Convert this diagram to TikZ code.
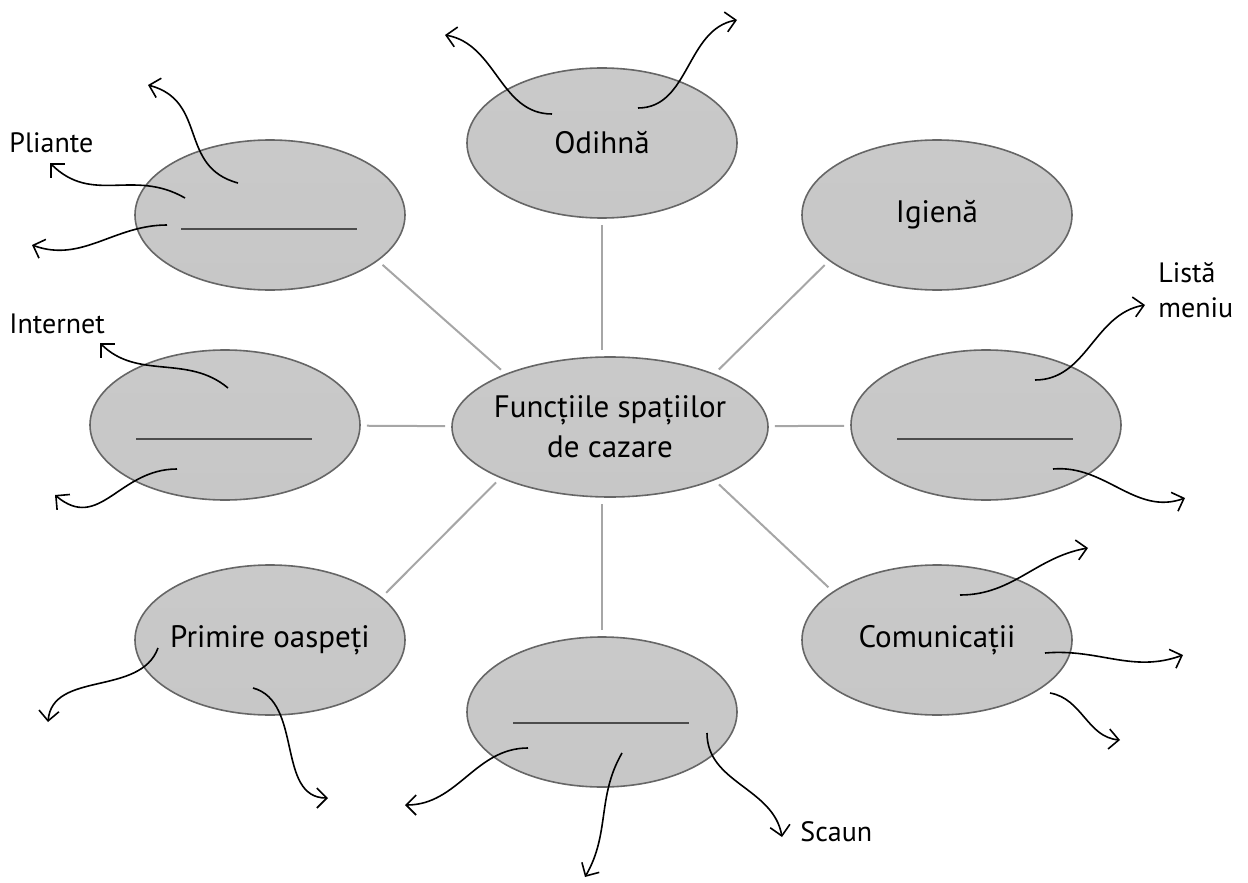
\documentclass[tikz,border=0pt]{standalone}
\usepackage{fontspec}
\setmainfont{PT Sans}
\usepackage{tikz}
\usetikzlibrary{shapes.geometric, arrows.meta, positioning}

\pgfdeclareverticalshading{bubbleshade}{100bp}{color(0bp)=(black!40); color(8bp)=(black!30); color(18bp)=(black!22); color(86bp)=(black!21); color(94bp)=(black!14); color(100bp)=(black!8)}

\tikzset{
  bubble/.style={ellipse, draw=black!60, line width=0.8pt, inner sep=0pt,
    shading=bubbleshade, minimum width=135pt, minimum height=75pt},
  btext/.style={font=\fontsize{15.5}{20}\selectfont, align=center, inner sep=0pt},
  conn/.style={draw=black!35, line width=1pt, shorten >=3pt, shorten <=3pt},
  wavy/.style={draw=black, line width=0.8pt, -{Straight Barb[length=5pt, width=10pt]}},
  blank/.style={draw=black!70, line width=0.7pt},
  lbl/.style={font=\fontsize{14}{17.5}\selectfont, inner sep=0pt, align=left}
}

\begin{document}
\begin{tikzpicture}[x=0.5pt, y=0.5pt]
  \useasboundingbox (0,0) rectangle (1248,-883);

  % bubbles
  \node (func) [bubble, minimum width=158pt, minimum height=70pt] at (610,-427) {};
  \node (odihna) [bubble] at (602,-143) {};
  \node (igiena) [bubble] at (937,-215) {};
  \node (tl) [bubble] at (270,-215) {};
  \node (le) [bubble] at (225,-425) {};
  \node (ri) [bubble] at (986,-425) {};
  \node (com) [bubble] at (937,-640) {};
  \node (prim) [bubble] at (270,-640) {};
  \node (bo) [bubble] at (602,-712) {};

  \node [btext] at (func) {Funcțiile spațiilor\\de cazare};
  \node [btext] at (odihna) {Odihnă};
  \node [btext] at (igiena) {Igienă};
  \node [btext] at (com) {Comunicații};
  \node [btext] at (prim) {Primire oaspeți};

  \foreach \n in {tl, le, ri}
    \draw [blank] ([shift={(-89,-14)}]\n.center) -- ++(176,0);
  \draw [blank] ([shift={(-89,-11)}]bo.center) -- ++(176,0);

  % spokes
  \path [conn]
    (odihna.south) edge (odihna.south |- func.north)
    (func.27) edge (igiena.203)
    (func) edge (ri)
    (func.-27) edge (com.155)
    (bo.north) edge (bo.north |- func.south)
    (func.205) edge (prim.21)
    (func) edge (le)
    (func.153) edge (tl.-23);

  % labels
  \node (pliante) [lbl, anchor=west] at (9,-143) {Pliante};
  \node (internet) [lbl, anchor=west] at (9,-324) {Internet};
  \node (lista) [lbl, anchor=west] at (1158,-290) {Listă\\meniu};
  \node (scaun) [lbl, anchor=west] at (800,-832) {Scaun};

  % arrow ends
  \coordinate (a1) at (445,-35);
  \coordinate (a2) at (737,-20);
  \coordinate (a3) at (148,-85);
  \coordinate (a4) at (50,-163);
  \coordinate (a5) at (32,-245);
  \coordinate (a6) at (100,-343);
  \coordinate (a7) at (55,-495);
  \coordinate (a8) at (1145,-305);
  \coordinate (a9) at (1185,-498);
  \coordinate (a10) at (1088,-548);
  \coordinate (a11) at (1183,-655);
  \coordinate (a12) at (1120,-740);
  \coordinate (a13) at (48,-722);
  \coordinate (a14) at (328,-798);
  \coordinate (a15) at (405,-805);
  \coordinate (a16) at (585,-877);
  \coordinate (a17) at (782,-837);

  % wavy arrows
  \draw [wavy] ([shift={(-50,29)}]odihna.center) to[out=180, in=-10] (a1);
  \draw [wavy] ([shift={(36,35)}]odihna.center) to[out=0, in=190] (a2);
  \draw [wavy] ([shift={(-32,32)}]tl.center) to[out=165, in=-15, looseness=1.2] (a3);
  \draw [wavy] ([shift={(-85,17)}]tl.center) to[out=150, in=-45, looseness=1.1] (a4);
  \draw [wavy] ([shift={(-103,-10)}]tl.center) to[out=180, in=-20] (a5);
  \draw [wavy] ([shift={(3,37)}]le.center) to[out=140, in=-45] (a6);
  \draw [wavy] ([shift={(-48,-44)}]le.center) to[out=180, in=-40, looseness=1.2] (a7);
  \draw [wavy] ([shift={(49,45)}]ri.center) to[out=0, in=190] (a8);
  \draw [wavy] ([shift={(67,-44)}]ri.center) to[out=5, in=200] (a9);
  \draw [wavy] ([shift={(23,45)}]com.center) to[out=0, in=190] (a10);
  \draw [wavy] ([shift={(108,-13)}]com.center) to[out=5, in=200] (a11);
  \draw [wavy] ([shift={(113,-53)}]com.center) to[out=-10, in=175] (a12);
  \draw [wavy] ([shift={(-112,-8)}]prim.center) to[out=-110, in=85] (a13);
  \draw [wavy] ([shift={(-17,-48)}]prim.center) to[out=-15, in=180] (a14);
  \draw [wavy] ([shift={(-74,-36)}]bo.center) to[out=180, in=0] (a15);
  \draw [wavy] ([shift={(20,-41)}]bo.center) to[out=-120, in=60] (a16);
  \draw [wavy] ([shift={(105,-21)}]bo.center) to[out=-90, in=100] (a17);
\end{tikzpicture}
\end{document}
